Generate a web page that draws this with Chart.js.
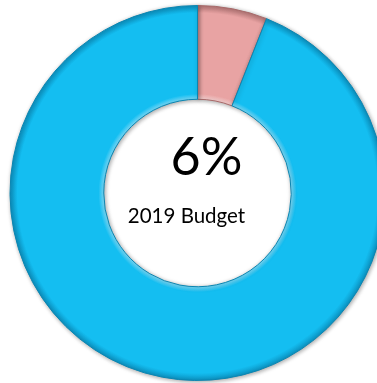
<!DOCTYPE html>
<html>
<head>
<meta charset="utf-8">
<script src="https://cdn.jsdelivr.net/npm/chart.js@4"></script>
<style>
  html, body { margin: 0; padding: 0; background: #fff; overflow: hidden; }
  #wrap { position: absolute; left: 0; top: 0; width: 395px; height: 386px; }
</style>
</head>
<body>
<div id="wrap"><canvas id="c"></canvas></div>
<script>
// Share of the 2019 budget
const categories = ['2019 Budget', 'Remainder'];
const shareValues = [6, 94];
const sliceColors = ['#E8A3A3', '#14BEF1'];
const sliceLights = ['#F6CFCF', '#74D9F9'];
const sliceDarks = ['#B47575', '#0B90BF'];
const sliceEdges = ['#A86A6A', '#0A86B2'];
const centerValue = '6%';
const centerLabel = '2019 Budget';
const cutoutShare = 0.5;

// Radial shading per slice: light rim on the hole side, darker rim outside
function ringFill(context) {
  const chart = context.chart;
  const i = context.dataIndex;
  const area = chart.chartArea;
  if (!area) return sliceColors[i];
  const x = (area.left + area.right) / 2;
  const y = (area.top + area.bottom) / 2;
  const r1 = Math.min(area.right - area.left, area.bottom - area.top) / 2;
  const r0 = r1 * cutoutShare;
  const w = r1 - r0;
  const g = chart.ctx.createRadialGradient(x, y, r0, x, y, r1);
  g.addColorStop(0, sliceLights[i]);
  g.addColorStop(5 / w, sliceColors[i]);
  g.addColorStop(1 - 8 / w, sliceColors[i]);
  g.addColorStop(1, sliceDarks[i]);
  return g;
}

// Soft drop shadow behind the ring for the raised look
const ringShadow = {
  id: 'ringShadow',
  beforeDatasetDraw(chart) {
    const ctx = chart.ctx;
    ctx.save();
    ctx.shadowColor = 'rgba(0,0,0,0.35)';
    ctx.shadowBlur = 4;
    ctx.shadowOffsetX = 1;
    ctx.shadowOffsetY = 1;
  },
  afterDatasetDraw(chart) {
    chart.ctx.restore();
  }
};

// Value and caption in the hole
const centerText = {
  id: 'centerText',
  afterDraw(chart) {
    const arc = chart.getDatasetMeta(0).data[0];
    const cx = arc.x, cy = arc.y;
    const ctx = chart.ctx;
    ctx.save();
    ctx.fillStyle = '#000';
    ctx.textAlign = 'center';
    ctx.textBaseline = 'alphabetic';
    ctx.font = '52px Lato, "Open Sans", sans-serif';
    ctx.fillText(centerValue, cx + 9, cy - 18);
    ctx.font = '20.5px Lato, "Open Sans", sans-serif';
    ctx.fillText(centerLabel, cx - 11, cy + 30);
    ctx.restore();
  }
};

new Chart(document.getElementById('c'), {
  type: 'doughnut',
  data: {
    labels: categories,
    datasets: [{
      data: shareValues,
      backgroundColor: ringFill,
      borderColor: sliceEdges,
      borderWidth: 1
    }]
  },
  options: {
    responsive: true,
    maintainAspectRatio: false,
    animation: false,
    cutout: (cutoutShare * 100) + '%',
    rotation: 0,
    layout: { padding: 5 },
    plugins: {
      legend: { display: false },
      tooltip: { enabled: false }
    }
  },
  plugins: [ringShadow, centerText]
});
</script>
</body>
</html>
